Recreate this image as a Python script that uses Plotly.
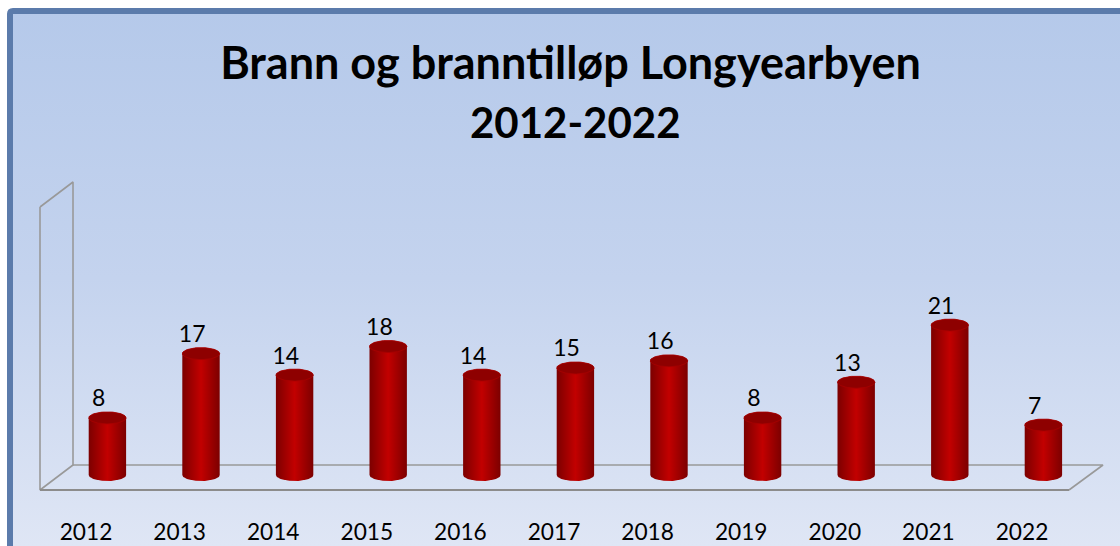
import plotly.graph_objects as go
import numpy as np

years = [2012, 2013, 2014, 2015, 2016, 2017, 2018, 2019, 2020, 2021, 2022]
fires = [8, 17, 14, 18, 14, 15, 16, 8, 13, 21, 7]
title_line1 = "Brann og branntilløp Longyearbyen"
title_line2 = "2012-2022"

W, H = 1120, 546
X0_PX, STEP_PX = 107.4, 93.6      # px of first bar, px per year
Y0_PX, UNIT_PX = 475.0, 7.14      # px of value 0, px per unit

xr = [2012 - X0_PX / STEP_PX, 2012 + (W - X0_PX) / STEP_PX]
yr = [-(H - Y0_PX) / UNIT_PX, Y0_PX / UNIT_PX]

def dx(px):
    return 2012 + (px - X0_PX) / STEP_PX

def dy(py):
    return (Y0_PX - py) / UNIT_PX

FONT = "Lato, Carlito, Calibri, sans-serif"
HALF_W = 18.7 / STEP_PX
RY = 6.0 / UNIT_PX

fig = go.Figure()

# background panel
fig.add_trace(go.Scatter(
    x=[dx(10), xr[1], xr[1], dx(10), dx(10)],
    y=[dy(11), dy(11), yr[0], yr[0], dy(11)],
    mode="lines", line=dict(width=0), fill="toself", hoverinfo="skip",
    fillgradient=dict(type="vertical",
                      colorscale=[[0, "#dfe6f5"], [0.5, "#c4d3ee"], [1, "#b5c9ea"]]),
    showlegend=False))

# 3-D wall and floor frame
fig.add_trace(go.Scatter(
    x=[dx(p) for p in [40, 73, 73, 40, 40]],
    y=[dy(p) for p in [207, 182, 465, 490, 207]],
    mode="lines", line=dict(color="#999999", width=1.6), hoverinfo="skip",
    showlegend=False))
fig.add_trace(go.Scatter(
    x=[dx(p) for p in [73, 1103, 1069]],
    y=[dy(p) for p in [465, 465, 490]],
    mode="lines", line=dict(color="#999999", width=1.6), hoverinfo="skip",
    showlegend=False))
fig.add_trace(go.Scatter(
    x=[dx(40), dx(1069)], y=[dy(490), dy(490)],
    mode="lines", line=dict(color="#8c8c8c", width=2), hoverinfo="skip",
    showlegend=False))

# cylinders
t_bottom = np.linspace(np.pi, 2 * np.pi, 40)
t_top = np.linspace(0, np.pi, 40)
t_full = np.linspace(0, 2 * np.pi, 80)
for yr_val, v in zip(years, fires):
    xs = np.concatenate([yr_val + HALF_W * np.cos(t_bottom),
                         yr_val + HALF_W * np.cos(t_top)])
    ys = np.concatenate([RY * np.sin(t_bottom),
                         v + RY * np.sin(t_top)])
    fig.add_trace(go.Scatter(
        x=xs, y=ys, mode="lines", line=dict(width=0), fill="toself",
        fillgradient=dict(type="horizontal", colorscale=[
            [0, "#7c0000"], [0.5, "#c20000"], [1, "#7c0000"]]),
        hoverinfo="skip", showlegend=False))
    fig.add_trace(go.Scatter(
        x=yr_val + HALF_W * np.cos(t_full), y=v + RY * np.sin(t_full),
        mode="lines", line=dict(color="#a80000", width=0.8), fill="toself",
        fillcolor="#8e0000", hoverinfo="skip", showlegend=False))

# value labels
fig.add_trace(go.Scatter(
    x=[y - 8.8 / STEP_PX for y in years],
    y=[v + 17.2 / UNIT_PX for v in fires],
    text=[str(v) for v in fires], mode="text", textposition="middle center",
    textfont=dict(family=FONT, size=23, color="#000000"),
    hoverinfo="skip", showlegend=False))

# invisible trace so the shifted category axis is live
fig.add_trace(go.Scatter(
    x=years, y=[0] * len(years), xaxis="x2", mode="markers",
    marker=dict(opacity=0), hoverinfo="skip", showlegend=False))

fig.update_layout(
    width=W, height=H, autosize=False,
    margin=dict(l=0, r=0, t=0, b=0),
    paper_bgcolor="#ffffff", plot_bgcolor="rgba(0,0,0,0)",
    showlegend=False,
    title=dict(text=title_line1, x=570.5 / W, xanchor="center", xref="paper",
               y=1 - 63 / H, yanchor="middle", yref="paper",
               font=dict(family=FONT, size=45, color="#000000", weight="bold")),
    annotations=[dict(text="<b>" + title_line2 + "</b>", x=575.5 / W, y=1 - 122 / H,
                      xref="paper", yref="paper", showarrow=False,
                      xanchor="center", yanchor="middle",
                      font=dict(family=FONT, size=42, color="#000000"))],
    xaxis=dict(range=xr, visible=False, fixedrange=True),
    yaxis=dict(range=yr, visible=False, fixedrange=True),
    xaxis2=dict(range=[xr[0] + 21.4 / STEP_PX, xr[1] + 21.4 / STEP_PX],
                overlaying="x", anchor="free", position=1 - 516 / H,
                tickmode="array", tickvals=years, ticktext=[str(y) for y in years],
                showline=False, showgrid=False, zeroline=False, ticks="",
                tickfont=dict(family=FONT, size=22.7, color="#000000"),
                fixedrange=True),
    shapes=[dict(type="path", xref="paper", yref="paper", layer="above",
                 path=f"M {10/W},0 L {10/W},{1-14/H} Q {10/W},{1-11/H} {13/W},{1-11/H} L 1.01,{1-11/H}",
                 line=dict(color="#5b7bab", width=6))],
)

fig.write_html("out.html", config={"displayModeBar": False},
               post_script="document.body.style.margin='0';document.documentElement.style.overflow='hidden';")
